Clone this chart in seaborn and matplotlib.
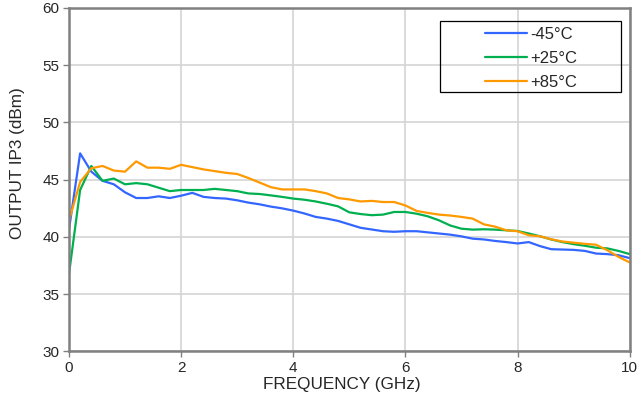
import numpy as np
import pandas as pd
import matplotlib
matplotlib.use("Agg")
import matplotlib.pyplot as plt
from matplotlib.patches import Rectangle
import seaborn as sns

freq_ghz = [0.0, 0.2, 0.4, 0.6, 0.8, 1.0, 1.2, 1.4, 1.6, 1.8,
            2.0, 2.2, 2.4, 2.6, 2.8, 3.0, 3.2, 3.4, 3.6, 3.8,
            4.0, 4.2, 4.4, 4.6, 4.8, 5.0, 5.2, 5.4, 5.6, 5.8,
            6.0, 6.2, 6.4, 6.6, 6.8, 7.0, 7.2, 7.4, 7.6, 7.8,
            8.0, 8.2, 8.4, 8.6, 8.8, 9.0, 9.2, 9.4, 9.6, 9.8, 10.0]

ip3_m45 = [40.6, 47.3, 45.7, 44.9, 44.6, 43.9, 43.4, 43.4, 43.55, 43.4,
           43.6, 43.85, 43.5, 43.4, 43.35, 43.2, 43.0, 42.85, 42.65, 42.5,
           42.3, 42.05, 41.75, 41.6, 41.4, 41.1, 40.8, 40.65, 40.5, 40.45,
           40.5, 40.5, 40.4, 40.3, 40.2, 40.05, 39.85, 39.78, 39.65, 39.55,
           39.43, 39.55, 39.2, 38.93, 38.9, 38.87, 38.78, 38.55, 38.5, 38.4, 38.15]

ip3_p25 = [36.7, 44.1, 46.2, 44.9, 45.1, 44.6, 44.7, 44.6, 44.3, 44.0,
           44.1, 44.1, 44.1, 44.2, 44.1, 44.0, 43.8, 43.75, 43.63, 43.5,
           43.35, 43.25, 43.1, 42.9, 42.67, 42.15, 42.0, 41.9, 41.95, 42.18,
           42.18, 42.03, 41.8, 41.45, 41.0, 40.72, 40.64, 40.67, 40.64, 40.58,
           40.52, 40.3, 40.06, 39.78, 39.55, 39.37, 39.23, 39.06, 39.0, 38.78, 38.5]

ip3_p85 = [41.4, 44.8, 46.0, 46.2, 45.8, 45.7, 46.6, 46.05, 46.05, 45.95,
           46.3, 46.1, 45.9, 45.75, 45.6, 45.5, 45.15, 44.75, 44.35, 44.15,
           44.15, 44.15, 44.0, 43.8, 43.4, 43.28, 43.1, 43.15, 43.05, 43.05,
           42.75, 42.27, 42.1, 41.95, 41.87, 41.75, 41.6, 41.1, 40.9, 40.58,
           40.5, 40.15, 40.06, 39.8, 39.6, 39.5, 39.4, 39.32, 38.84, 38.26, 37.77]

temps = ["-45°C", "+25°C", "+85°C"]
colors = ["#3366ff", "#00b050", "#ff9900"]

df = pd.concat([
    pd.DataFrame({"freq": freq_ghz, "ip3": vals, "temp": t})
    for t, vals in zip(temps, [ip3_m45, ip3_p25, ip3_p85])
])

sns.set_style("white")
plt.rcParams["font.family"] = ["Liberation Sans", "DejaVu Sans"]

fig = plt.figure(figsize=(6.38, 3.98), dpi=100)
ax = fig.add_axes([0.108, 0.117, 0.879, 0.863])

sns.lineplot(data=df, x="freq", y="ip3", hue="temp", hue_order=temps,
             palette=colors, linewidth=1.6, ax=ax)

ax.set_xlim(0, 10)
ax.set_ylim(30, 60)
ax.set_xticks(np.arange(0, 11, 2))
ax.set_yticks(np.arange(30, 61, 5))
ax.grid(True, color="#d4d4d4", linewidth=1.2)
ax.set_axisbelow(True)
for s in ax.spines.values():
    s.set_color("#808080")
    s.set_linewidth(1.8)
ax.tick_params(axis="both", direction="out", length=4, width=1,
               color="#808080", labelsize=11, pad=3)
ax.tick_params(left=True, bottom=True)

ax.set_xlabel("FREQUENCY (GHz)", fontsize=12.3, va="top")
ax.set_ylabel("OUTPUT IP3 (dBm)", fontsize=12.3)
ax.xaxis.set_label_coords(0.486, -0.074)
ax.yaxis.set_label_coords(-0.078, 0.549)

# legend: no frame, box drawn separately so it can be wider than its entries
leg = ax.legend(loc="upper left", bbox_to_anchor=(0.7415, 0.945),
                fontsize=12, frameon=False,
                handlelength=2.55, handletextpad=0.2, labelspacing=0.55,
                borderpad=0, borderaxespad=0)
ax.add_patch(Rectangle((0.661, 0.755), 0.324, 0.207, transform=ax.transAxes,
                       fill=False, edgecolor="black", linewidth=0.9,
                       clip_on=False, zorder=5))

fig.savefig("out.png", dpi=100)
